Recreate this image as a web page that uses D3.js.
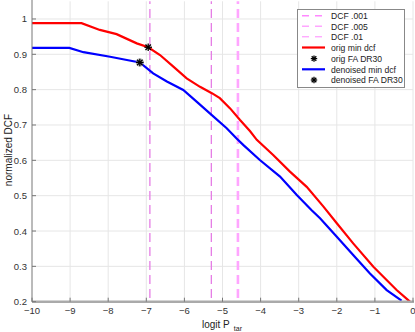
<!DOCTYPE html>
<html><head><meta charset="utf-8">
<script src="https://cdn.jsdelivr.net/npm/d3@7"></script>
<style>
html,body{margin:0;padding:0;background:#fff;}
svg{display:block;font-family:"Liberation Sans",Arial,Helvetica,sans-serif;}
</style></head>
<body>
<svg id="c" width="415" height="332"></svg>
<script>
// ---- data ----
const origX = [-10, -8.70, -8.22, -7.78, -7.25, -6.95, -6.64, -6.29, -5.94, -5.59, -5.28, -5.07, -4.80, -4.54, -4.28, -4.10, -3.67, -3.23, -2.79, -2.35, -2.00, -1.57, -1.04, -0.43, -0.08];
const origY = [0.988, 0.988, 0.969, 0.957, 0.931, 0.920, 0.898, 0.865, 0.832, 0.808, 0.790, 0.776, 0.747, 0.714, 0.683, 0.658, 0.615, 0.568, 0.525, 0.469, 0.422, 0.365, 0.299, 0.233, 0.200];
const denX = [-10, -9.02, -8.65, -7.95, -7.51, -7.17, -6.82, -6.46, -6.03, -5.68, -5.28, -4.89, -4.63, -4.45, -4.02, -3.49, -3.05, -2.66, -2.44, -2.00, -1.57, -1.13, -0.69, -0.30];
const denY = [0.918, 0.918, 0.906, 0.893, 0.884, 0.877, 0.846, 0.823, 0.799, 0.766, 0.728, 0.691, 0.662, 0.643, 0.601, 0.554, 0.502, 0.459, 0.436, 0.384, 0.332, 0.280, 0.233, 0.203];
const origFA = [-6.95, 0.920];
const denFA = [-7.17, 0.877];
const dcfNames = ["DCF .001", "DCF .005", "DCF .01"];
const dcfX = [-6.906, -5.293, -4.595];
const xTicks = [-10, -9, -8, -7, -6, -5, -4, -3, -2, -1, 0];
const yTicks = [0.2, 0.3, 0.4, 0.5, 0.6, 0.7, 0.8, 0.9, 1];
const legendLabels = ["DCF .001", "DCF .005", "DCF .01", "orig min dcf", "orig FA DR30", "denoised min dcf", "denoised FA DR30"];

// ---- layout ----
const L = 32, R = 413, T = 1.3, B = 301.7;
const svg = d3.select("#c");
const x = d3.scaleLinear().domain([-10, 0]).range([L, R]);
const y = d3.scaleLinear().domain([0.2, 1.05]).range([B, T]);

// grid
const g = svg.append("g");
g.selectAll(".vg").data(xTicks.slice(1)).join("line")
  .attr("x1", d => x(d)).attr("x2", d => x(d)).attr("y1", T).attr("y2", B)
  .attr("stroke", "#e6e6e6").attr("stroke-width", 1);
g.selectAll(".hg").data(yTicks.slice(1)).join("line")
  .attr("x1", L).attr("x2", R).attr("y1", d => y(d)).attr("y2", d => y(d))
  .attr("stroke", "#e6e6e6").attr("stroke-width", 1);

// clip
svg.append("clipPath").attr("id", "clip").append("rect")
  .attr("x", L).attr("y", T).attr("width", R - L + 2).attr("height", B - T);

const plot = svg.append("g").attr("clip-path", "url(#clip)");

// DCF dashed lines
const dcfStyle = [
  {c: "#e57ee5", w: 1.3},
  {c: "#e57ee5", w: 1.3},
  {c: "#ffa6ff", w: 2.6}
];
plot.selectAll(".dcf").data(dcfX).join("line")
  .attr("x1", d => x(d)).attr("x2", d => x(d)).attr("y1", 0).attr("y2", B)
  .attr("stroke", (d, i) => dcfStyle[i].c).attr("stroke-width", (d, i) => dcfStyle[i].w)
  .attr("stroke-dasharray", "9,5").attr("stroke-dashoffset", -9);

const line = d3.line().x(d => x(d[0])).y(d => y(d[1]));
plot.append("path").datum(origX.map((v, i) => [v, origY[i]]))
  .attr("d", line).attr("fill", "none").attr("stroke", "#ff0000").attr("stroke-width", 2.2);
plot.append("path").datum(denX.map((v, i) => [v, denY[i]]))
  .attr("d", line).attr("fill", "none").attr("stroke", "#0000ff").attr("stroke-width", 2.2);

function asterisk(sel, cx, cy, r) {
  const a = sel.append("g").attr("transform", `translate(${cx},${cy})`);
  [[-r,0,r,0],[0,-r,0,r],[-r*0.72,-r*0.72,r*0.72,r*0.72],[-r*0.72,r*0.72,r*0.72,-r*0.72]].forEach(s => {
    a.append("line").attr("x1", s[0]).attr("y1", s[1]).attr("x2", s[2]).attr("y2", s[3])
      .attr("stroke", "#000").attr("stroke-width", 1.3);
  });
  return a;
}
svg.append("circle").attr("cx", x(denFA[0])).attr("cy", y(denFA[1])).attr("r", 4.2).attr("fill", "#999").attr("opacity", 0.6);
asterisk(svg, x(origFA[0]), y(origFA[1]), 3.8);
asterisk(svg, x(denFA[0]), y(denFA[1]), 3.8);

// axes
const ax = svg.append("g").attr("font-size", 9.5).attr("fill", "#333");
ax.append("line").attr("x1", L).attr("x2", R + 1).attr("y1", B).attr("y2", B)
  .attr("stroke", "#aaaaaa").attr("stroke-width", 2.5);
ax.append("line").attr("x1", L).attr("x2", L).attr("y1", 0).attr("y2", B)
  .attr("stroke", "#777").attr("stroke-width", 1);
ax.selectAll(".xt").data(xTicks).join("line")
  .attr("x1", d => x(d)).attr("x2", d => x(d)).attr("y1", B).attr("y2", B - 4)
  .attr("stroke", "#777").attr("stroke-width", 1);
ax.selectAll(".yt").data(yTicks).join("line")
  .attr("x1", L).attr("x2", L + 4).attr("y1", d => y(d)).attr("y2", d => y(d))
  .attr("stroke", "#777").attr("stroke-width", 1);
ax.selectAll(".xl").data(xTicks).join("text")
  .attr("x", d => x(d)).attr("y", 314).attr("text-anchor", "middle")
  .text(d => d3.format("d")(d));
ax.selectAll(".yl").data(yTicks).join("text")
  .attr("x", 27).attr("y", d => y(d) + 3.5).attr("text-anchor", "end")
  .text(d => d === 1 ? "1" : d3.format(".1f")(d));

// axis labels
svg.append("text").attr("transform", "translate(12,150) rotate(-90)")
  .attr("text-anchor", "middle").attr("font-size", 10).attr("fill", "#222").text("normalized DCF");
const xl = svg.append("text").attr("x", 202).attr("y", 328).attr("font-size", 10).attr("fill", "#222");
xl.append("tspan").text("logit P");
xl.append("tspan").attr("dx", 4).attr("dy", 3).attr("font-size", 7).text("tar");

// legend
const lg = svg.append("g");
lg.append("rect").attr("x", 297.5).attr("y", 9.5).attr("width", 107).attr("height", 78)
  .attr("fill", "#fff").attr("stroke", "#888").attr("stroke-width", 1);
const ly = [15.7, 26.3, 36.8, 47.5, 58.6, 69.3, 80];
const legStyle = [
  {t: "dash", c: "#ff88ff", w: 1.6},
  {t: "dash", c: "#ffa6ff", w: 1.6},
  {t: "dash", c: "#ff88ff", w: 1},
  {t: "line", c: "#ff0000", w: 2.2},
  {t: "star"},
  {t: "line", c: "#0000ff", w: 2.2},
  {t: "star"}
];
legendLabels.forEach((lab, i) => {
  const s = legStyle[i];
  if (s.t === "dash") {
    lg.append("line").attr("x1", 302).attr("x2", 325).attr("y1", ly[i]).attr("y2", ly[i])
      .attr("stroke", s.c).attr("stroke-width", s.w).attr("stroke-dasharray", "7,6");
  } else if (s.t === "line") {
    lg.append("line").attr("x1", 302).attr("x2", 325).attr("y1", ly[i]).attr("y2", ly[i])
      .attr("stroke", s.c).attr("stroke-width", s.w);
  } else {
    asterisk(lg, 314, ly[i], 3.2);
  }
  lg.append("text").attr("x", 331).attr("y", ly[i] + 3.2).attr("font-size", 8.6).attr("fill", "#222").text(lab);
});
</script>
</body></html>
